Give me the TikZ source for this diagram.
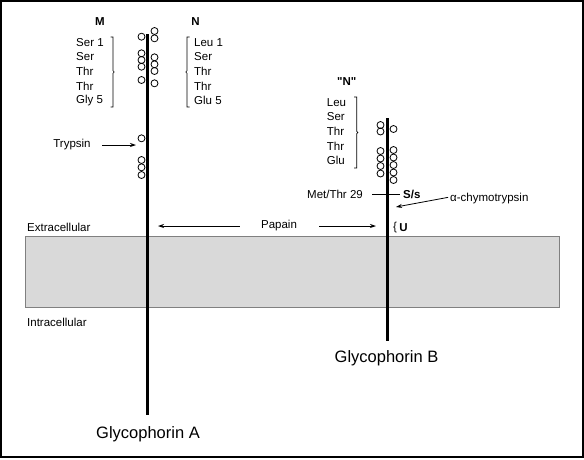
\documentclass[tikz,border=0pt]{standalone}
\usepackage{fontspec}
\setmainfont{Liberation Sans}[Ligatures=TeXOff]
\usetikzlibrary{arrows.meta, positioning}
\tikzset{
  chain/.style={line width=3pt},
  sugar/.style={draw, circle, line width=0.8pt, minimum size=7pt, inner sep=0pt},
  residue/.style={anchor=west, inner sep=0pt},
  bold/.style={font=\fontsize{11.5}{13}\selectfont\bfseries},
  title/.style={inner sep=0pt, font=\fontsize{16.5}{19}\selectfont},
  bracket/.style={line width=0.6pt},
  arrow/.style={-{Stealth[length=6pt, width=4pt]}, line width=0.8pt},
  tick/.style={line width=0.8pt},
  membrane/.style={draw=black!50, fill=gray!30, line width=1pt},
  frame/.style={line width=2pt},
  every node/.style={font=\fontsize{11.5}{13}\selectfont}
}
\newcommand{\rbracket}[3]{% x, top, bottom ; opens to the left
  \draw[bracket] (#1-2.5,#2) -- (#1,#2) -- (#1,{(#2+#3)/2-1.2}) -- (#1+1.2,{(#2+#3)/2})
    -- (#1,{(#2+#3)/2+1.2}) -- (#1,#3) -- (#1-2.5,#3);}
\newcommand{\lbracket}[3]{% x, top, bottom ; opens to the right
  \draw[bracket] (#1+2.5,#2) -- (#1,#2) -- (#1,{(#2+#3)/2-1.2}) -- (#1-1.2,{(#2+#3)/2})
    -- (#1,{(#2+#3)/2+1.2}) -- (#1,#3) -- (#1+2.5,#3);}

\begin{document}
\begin{tikzpicture}[x=1pt, y=-1pt]
    \useasboundingbox (0,0) rectangle (584,459);
    \draw[membrane] (25,236) rectangle (559,307);
    \node[residue] (extra) at (27,227) {Extracellular};
    \node[residue] (intra) at (27,322) {Intracellular};

    % glycophorin A
    \coordinate (aTop) at (147.5,34);
    \coordinate (aBot) at (147.5,415);
    \draw[chain] (aTop) -- (aBot);
    \node[title] (gpA) at (148,434) {Glycophorin A};
    \foreach \y [count=\i] in {36.7,53.3,60,66.7,80,138.3,160,167.3,175}
        \node[sugar] (al\i) at (141.5,\y) {};
    \foreach \y [count=\i] in {31,38.3,57.3,64.3,71,83.3}
        \node[sugar] (ar\i) at (154.5,\y) {};

    \node[bold] (mHead) at (100,21.7) {M};
    \node[bold] (nHead) at (195.5,21.7) {N};
    \foreach \t [count=\i] in {Ser 1, Ser, Thr, Thr, Gly 5}
        \node[residue] (m\i) at (76,27.5+14.6*\i) {\t};
    \foreach \t [count=\i] in {Leu 1, Ser, Thr, Thr, Glu 5}
        \node[residue] (n\i) at (194,27.5+14.6*\i) {\t};
    \rbracket{113}{37}{107}
    \lbracket{187}{37}{107}

    \node (tryp) at (72,145) {Trypsin};
    \coordinate (trypA) at (136,145);
    \draw[arrow, shorten <=8pt] (tryp) -- (trypA);

    % glycophorin B
    \coordinate (bTop) at (387,118);
    \coordinate (bBot) at (387,341);
    \draw[chain] (bTop) -- (bBot);
    \node[title] (gpB) at (386.5,358) {Glycophorin B};
    \foreach \y [count=\i] in {125,131.5,151,158.5,166,173.5}
        \node[sugar] (bl\i) at (380.5,\y) {};
    \foreach \y [count=\i] in {129,150,157.5,165,172.5,180}
        \node[sugar] (br\i) at (393.5,\y) {};

    \node[bold] (nQuote) at (346.7,81.7) {"N"};
    \foreach \t [count=\i] in {Leu, Ser, Thr, Thr, Glu}
        \node[residue] (q\i) at (326.7,87.7+14.6*\i) {\t};
    \rbracket{356.7}{97}{168}

    \node[anchor=east, inner sep=0pt] (met) at (363,194) {Met/Thr 29};
    \node[residue, bold] (ss) at (403,194) {S/s};
    \draw[tick, shorten <=9pt, shorten >=3pt] (met.east) -- (ss.west);

    \node[residue] (chy) at (450,199) {α-chymotrypsin};
    \coordinate (chyB) at (396,207);
    \draw[arrow, shorten <=2pt] ([yshift=2pt]chy.west) -- (chyB);

    \node[residue] (uBr) at (393,228) {\{};
    \node[residue, bold, right=2pt of uBr] (uSite) {U};

    \node (pap) at (279,226) {Papain};
    \coordinate (papA) at (158,226);
    \coordinate (papB) at (376,226);
    \draw[arrow, shorten <=18pt] (pap) -- (papA);
    \draw[arrow, shorten <=19pt] (pap) -- (papB);

    \draw[frame] (1,1) rectangle (583,457);
\end{tikzpicture}
\end{document}
